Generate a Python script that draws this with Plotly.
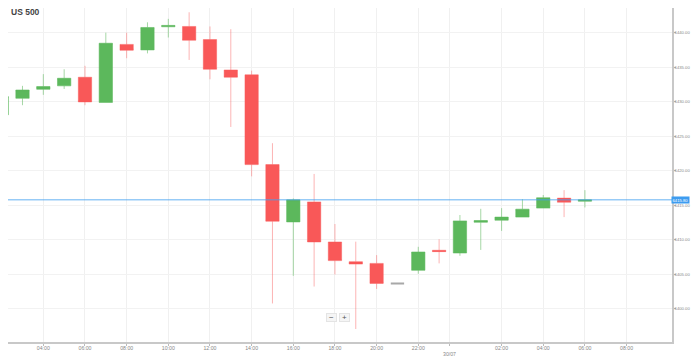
import plotly.graph_objects as go

# ---- data (hourly candles, 29/07 02:00 -> 30/07 06:00) ----
times = [
    "2025-07-29 02:00", "2025-07-29 03:00", "2025-07-29 04:00", "2025-07-29 05:00",
    "2025-07-29 06:00", "2025-07-29 07:00", "2025-07-29 08:00", "2025-07-29 09:00",
    "2025-07-29 10:00", "2025-07-29 11:00", "2025-07-29 12:00", "2025-07-29 13:00",
    "2025-07-29 14:00", "2025-07-29 15:00", "2025-07-29 16:00", "2025-07-29 17:00",
    "2025-07-29 18:00", "2025-07-29 19:00", "2025-07-29 20:00", "2025-07-29 21:00",
    "2025-07-29 22:00", "2025-07-29 23:00", "2025-07-30 00:00", "2025-07-30 01:00",
    "2025-07-30 02:00", "2025-07-30 03:00", "2025-07-30 04:00", "2025-07-30 05:00",
    "2025-07-30 06:00",
]
opens = [6428.1, 6430.5, 6431.8, 6432.3, 6433.55, 6429.9, 6438.3, 6437.5, 6440.85,
         6440.9, 6439.0, 6434.6, 6433.9, 6420.9, 6412.6, 6415.5, 6409.7, 6406.85,
         6406.6, 6403.7, 6405.6, 6408.5, 6408.1, 6412.55, 6412.85, 6413.3, 6414.6,
         6416.05, 6415.6]
highs = [6430.8, 6432.3, 6434.0, 6434.7, 6435.2, 6440.0, 6440.0, 6441.5, 6442.0,
         6442.95, 6440.9, 6440.5, 6434.5, 6424.0, 6416.0, 6419.55, 6412.3, 6409.75,
         6407.8, 6403.7, 6409.0, 6410.1, 6413.6, 6414.5, 6414.6, 6415.9, 6416.5,
         6417.2, 6417.2]
lows = [6427.0, 6429.5, 6431.0, 6431.85, 6429.5, 6429.9, 6436.3, 6437.0, 6439.3,
        6436.05, 6433.25, 6426.35, 6419.2, 6400.8, 6404.8, 6403.25, 6405.0, 6397.1,
        6402.9, 6403.7, 6405.1, 6406.6, 6407.7, 6408.55, 6411.3, 6413.3, 6414.6,
        6413.3, 6414.7]
closes = [6430.75, 6431.7, 6432.2, 6433.4, 6429.97, 6438.47, 6437.45, 6440.75, 6441.05,
          6438.9, 6434.7, 6433.55, 6420.9, 6412.7, 6415.8, 6409.7, 6407.0, 6406.5,
          6403.7, 6403.7, 6408.25, 6408.3, 6412.75, 6412.8, 6413.3, 6414.45, 6416.1,
          6415.45, 6415.8]

current_price = 6415.80
y_ticks = [6400, 6405, 6410, 6415, 6420, 6425, 6430, 6435, 6440]
x_tickvals = ["2025-07-29 02:00", "2025-07-29 04:00", "2025-07-29 06:00", "2025-07-29 08:00",
              "2025-07-29 10:00", "2025-07-29 12:00", "2025-07-29 14:00", "2025-07-29 16:00",
              "2025-07-29 18:00", "2025-07-29 20:00", "2025-07-29 22:00", "2025-07-29 23:31",
              "2025-07-30 02:00", "2025-07-30 04:00", "2025-07-30 06:00", "2025-07-30 08:00"]
x_ticktext = ["02:00", "04:00", "06:00", "08:00", "10:00", "12:00", "14:00", "16:00",
              "18:00", "20:00", "22:00", "", "02:00", "04:00", "06:00", "08:00"]
date_marker = ("2025-07-29 23:31", "30/07")

GREEN = "#5cb85c"
RED = "#f95858"
GRAY = "#a8a8a8"
FONT = "Arial, Liberation Sans, sans-serif"
X_TICK_SIZE = 5.2
Y_TICK_SIZE = 4.2

# page body margin is 8px: figure offset accordingly
W, H = 691, 352
PW, PH = 664, 334  # plot area size

mv = [i for i in range(len(times)) if opens[i] != closes[i]]
fl = [i for i in range(len(times)) if opens[i] == closes[i]]

fig = go.Figure()
fig.add_trace(go.Candlestick(
    x=[times[i] for i in mv],
    open=[opens[i] for i in mv], high=[highs[i] for i in mv],
    low=[lows[i] for i in mv], close=[closes[i] for i in mv],
    increasing=dict(fillcolor=GREEN, line=dict(color="rgba(92,184,92,0.55)", width=1)),
    decreasing=dict(fillcolor=RED, line=dict(color="rgba(249,88,88,0.45)", width=1)),
    showlegend=False, hoverinfo="skip",
))
fig.add_trace(go.Candlestick(
    x=[times[i] for i in fl],
    open=[opens[i] for i in fl], high=[highs[i] for i in fl],
    low=[lows[i] for i in fl], close=[closes[i] for i in fl],
    increasing=dict(fillcolor=GRAY, line=dict(color=GRAY, width=2)),
    decreasing=dict(fillcolor=GRAY, line=dict(color=GRAY, width=2)),
    showlegend=False, hoverinfo="skip",
))

fig.add_shape(type="line", xref="paper", x0=0, x1=1, yref="y",
              y0=current_price, y1=current_price,
              line=dict(color="rgba(66,160,240,0.55)", width=1.5))

fig.add_annotation(xref="paper", x=1, xanchor="left", xshift=-1, yref="y", y=current_price,
                   yanchor="middle", text=f"{current_price:.2f}", showarrow=False,
                   font=dict(family=FONT, size=Y_TICK_SIZE, color="white"),
                   bgcolor="#3d9cf0", borderpad=0.5)

fig.add_annotation(xref="paper", x=1 / PW, xanchor="left", yref="paper",
                   y=1 - 3.9 / PH, yanchor="middle", text="<b>US 500</b>",
                   showarrow=False,
                   font=dict(family=FONT, size=8.5, color="#444444"))

fig.add_annotation(xref="x", x=date_marker[0], yref="paper", y=-12 / PH, yanchor="middle",
                   text=date_marker[1], showarrow=False,
                   font=dict(family=FONT, size=X_TICK_SIZE, color="#888888"))

for xp, t in [(323.5, "−"), (336.0, "+")]:
    fig.add_annotation(xref="paper", x=xp / PW, yref="paper", y=1 - 313.7 / PH,
                       text=t, showarrow=False, width=9, height=7,
                       font=dict(family=FONT, size=8, color="#555555"),
                       bgcolor="#f5f5f5", bordercolor="#e4e4e4", borderwidth=1, borderpad=0)

fig.update_layout(
    width=W, height=H,
    margin=dict(l=0, r=W - PW, t=0, b=H - PH),
    paper_bgcolor="white", plot_bgcolor="white",
    boxgap=0.36, boxgroupgap=0,
    font=dict(family=FONT, size=X_TICK_SIZE, color="#888888"),
    xaxis=dict(
        type="date",
        range=["2025-07-29 02:18:15", "2025-07-30 10:10:50"],
        rangeslider=dict(visible=False),
        tickvals=x_tickvals, ticktext=x_ticktext,
        showgrid=True, gridcolor="#f0f0f0", gridwidth=1,
        showline=True, linecolor="#c8c8c8", linewidth=1.5,
        ticks="outside", ticklen=2, tickcolor="#bbbbbb",
        ticklabelstandoff=-2,
        tickfont=dict(size=X_TICK_SIZE, color="#888888"),
        zeroline=False, fixedrange=True,
    ),
    yaxis=dict(
        side="right",
        range=[6395.22, 6443.57],
        tickvals=y_ticks, tickformat=".2f",
        showgrid=True, gridcolor="#f2f2f2", gridwidth=1,
        showline=True, linecolor="#c8c8c8", linewidth=1.5,
        ticks="outside", ticklen=2, tickcolor="#bbbbbb",
        ticklabelstandoff=-2,
        tickfont=dict(size=Y_TICK_SIZE, color="#888888"),
        zeroline=False, fixedrange=True,
    ),
)

fig.write_html("out.html")
